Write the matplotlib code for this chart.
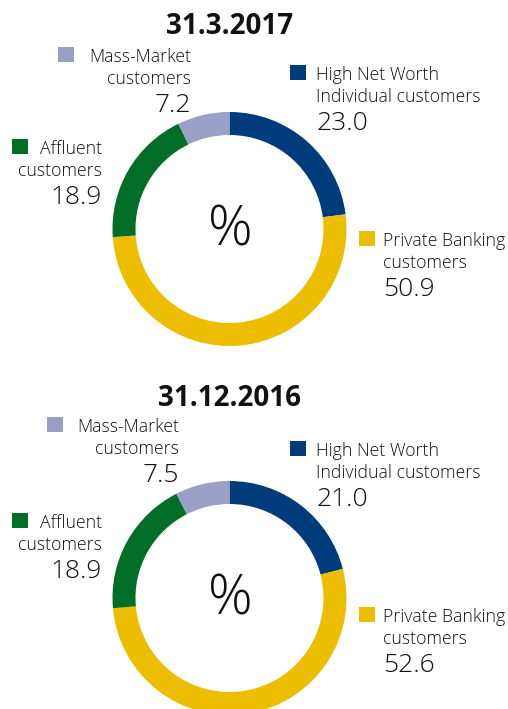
import matplotlib
matplotlib.use("Agg")
import matplotlib.pyplot as plt
from matplotlib.patches import Rectangle

plt.rcParams['font.family'] = ['Open Sans', 'DejaVu Sans']

# ---- data ----
categories = ["High Net Worth\nIndividual customers", "Private Banking\ncustomers",
              "Affluent\ncustomers", "Mass-Market\ncustomers"]
values_2017 = [23.0, 50.9, 18.9, 7.2]
values_2016 = [21.0, 52.6, 18.9, 7.5]
titles = ["31.3.2017", "31.12.2016"]
colors = ["#003b7b", "#edbd00", "#006e27", "#98a1c5"]

W, H = 508, 709
TXT = "#111111"

fig = plt.figure(figsize=(W / 100, H / 100), dpi=100)
ax = fig.add_axes([0, 0, 1, 1])

# layout in pixel coords (y from top)
charts = [
    dict(values=values_2017, title=titles[0], title_y=34, cy=229,
         labels=[  # (text x, first baseline, align, marker x)
             (316, 80, 'left', 290),
             (383, 246, 'left', 359),
             (102, 154, 'right', 12),
             (191, 62, 'right', 58)]),
    dict(values=values_2016, title=titles[1], title_y=406, cy=598,
         labels=[
             (316, 456, 'left', 290),
             (383, 622, 'left', 359),
             (102, 528, 'right', 12),
             (179, 432, 'right', 47)]),
]

CX, R, RW = 229.5, 117, 23
LINE2, VAL = 22, 50

def Y(y):
    return H - y

for ch in charts:
    ax.pie(ch['values'], colors=colors, startangle=90, counterclock=False,
           center=(CX, Y(ch['cy'])), radius=R, frame=True,
           wedgeprops=dict(width=RW, linewidth=0))
    ax.text(CX, Y(ch['title_y']), ch['title'], ha='center', va='baseline',
            fontsize=20, fontweight='bold', color=TXT)
    ax.text(CX + 1, Y(ch['cy'] + 2), '%', ha='center', va='center',
            fontsize=40, fontweight='light', color=TXT)
    for cat, val, col, (tx, by, al, mx) in zip(categories, ch['values'], colors, ch['labels']):
        l1, l2 = cat.split('\n')
        ax.add_patch(Rectangle((mx, Y(by)), 16, 15, facecolor=col, edgecolor='none'))
        ax.text(tx, Y(by), l1, ha=al, va='baseline', fontsize=12.7,
                fontweight='light', color=TXT)
        ax.text(tx, Y(by + LINE2), l2, ha=al, va='baseline', fontsize=12.7,
                fontweight='light', color=TXT)
        ax.text(tx, Y(by + VAL), f"{val:.1f}", ha=al, va='baseline', fontsize=19,
                fontweight='light', color=TXT)

ax.set_xlim(0, W)
ax.set_ylim(0, H)
ax.set_aspect('equal')
ax.axis('off')
fig.savefig("out.png", dpi=100)
